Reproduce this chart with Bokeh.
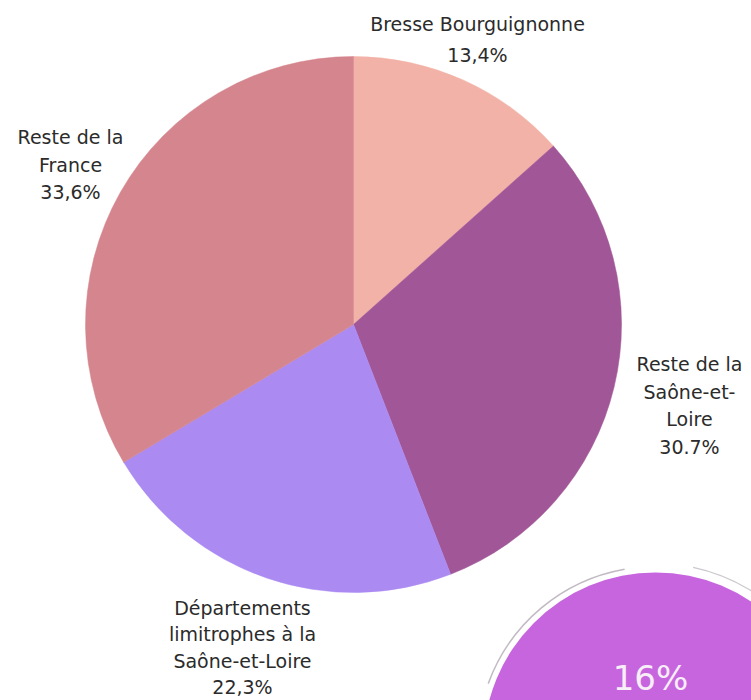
import math
from bokeh.plotting import figure
from bokeh.models import Range1d, ColumnDataSource
from bokeh.core.properties import value
from bokeh.embed import file_html
from bokeh.resources import INLINE

# ---- data ----
categories = ["Bresse Bourguignonne", "Reste de la Saône-et-Loire",
              "Départements limitrophes à la Saône-et-Loire", "Reste de la France"]
label_text = ["Bresse Bourguignonne", "Reste de la\nSaône-et-\nLoire",
              "Départements\nlimitrophes à la\nSaône-et-Loire", "Reste de la\nFrance"]
shares = [13.4, 30.7, 22.3, 33.6]
share_labels = ["13,4%", "30.7%", "22,3%", "33,6%"]
highlight_label = "16%"

# ---- styling / layout ----
colors = ["#F2B2A7", "#A15697", "#AB8AF2", "#D5858D"]
label_pos = [(477, 661), (689, 295), (242, 53), (70, 536)]
line_heights = [1.4, 1.25, 1.2, 1.25]
W, H = 751, 700
cx, cy, R = 353, 376, 268
FONT = value("DejaVu Sans")

p = figure(width=W, height=H, x_range=Range1d(0, W), y_range=Range1d(0, H),
           output_backend="svg", toolbar_location=None, min_border=0)
p.axis.visible = False
p.grid.visible = False
p.outline_line_color = None
p.background_fill_color = "white"

total = sum(shares)
starts, ends = [], []
acc = 0.0
for v in shares:
    starts.append(math.pi / 2 - acc / total * 2 * math.pi)
    acc += v
    ends.append(math.pi / 2 - acc / total * 2 * math.pi)

src = ColumnDataSource(dict(start=starts, end=ends, color=colors, cat=categories))
p.wedge(x=cx, y=cy, radius=R, start_angle="start", end_angle="end",
        direction="clock", fill_color="color", line_color="color",
        line_width=0.5, source=src)

texts = [f"{t}\n{s}" for t, s in zip(label_text, share_labels)]
lsrc = ColumnDataSource(dict(x=[q[0] for q in label_pos], y=[q[1] for q in label_pos],
                             t=texts, lh=line_heights))
p.text(x="x", y="y", text="t", source=lsrc, text_font=FONT, text_font_size="19px",
       text_color="#2b2b2b", text_align="center", text_baseline="middle",
       text_line_height="lh")

# highlighted brush-circle in bottom right
bx, by, br = 655, -44, 172
p.circle(x=bx, y=by, radius=br, fill_color="#C765DF", line_color=None)
p.arc(x=bx, y=by, radius=br + 6, start_angle=math.radians(100), end_angle=math.radians(160),
      line_color="#8f8292", line_alpha=0.55, line_width=1.5)
p.arc(x=bx, y=by, radius=br + 9, start_angle=math.radians(40), end_angle=math.radians(78),
      line_color="#8f8292", line_alpha=0.45, line_width=1.2)
p.text(x=[650], y=[23], text=[highlight_label], text_font=FONT, text_font_size="34px",
       text_color="#F7EEF7", text_align="center", text_baseline="middle")

open("out.html", "w").write(file_html(p, INLINE))
